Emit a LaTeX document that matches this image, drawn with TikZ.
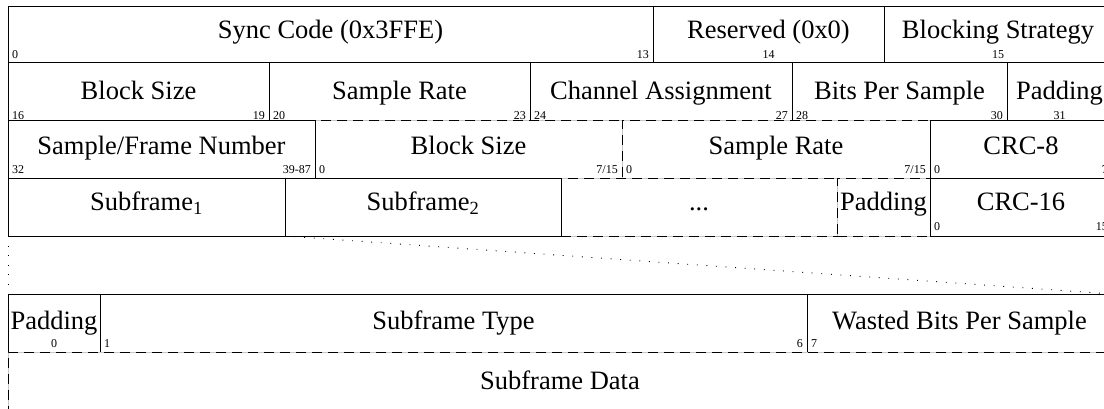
\documentclass[tikz,border=0pt]{standalone}
\usepackage{fontspec}
\setmainfont{Liberation Serif}
\usetikzlibrary{calc}
\tikzset{
  solidbox/.style={draw=black, line width=1pt, fill=white, inner sep=0pt, outer sep=0pt, anchor=north west},
  dashbox/.style={draw=black, line width=1pt, inner sep=0pt, outer sep=0pt, anchor=north west,
    dash pattern=on 10pt off 6pt, preaction={fill=white}, preaction={draw=black!22, solid}},
  lbl/.style={font=\fontsize{26.5}{30}\selectfont, inner sep=0pt, anchor=base},
  num/.style={font=\fontsize{12}{14}\selectfont, inner sep=0pt},
  dotline/.style={line width=0.9pt, dash pattern=on 0.9pt off 8.7pt},
}
\newcommand\mkbox[6]{\node[#2, minimum width={(#4)-(#3)}, minimum height={(#6)-(#5)}] (#1) at (#3,#5) {};}
\newcommand\labT[3]{\node[lbl] (#1-t) at (#1.center |- 0,#2) {#3};}
\newcommand\numL[3]{\node[num, anchor=base west, xshift=4pt] (#1-l) at (#1.west |- 0,#2) {#3};}
\newcommand\numR[3]{\node[num, anchor=base east, xshift=-4pt] (#1-r) at (#1.east |- 0,#2) {#3};}
\newcommand\numC[3]{\node[num, anchor=base] (#1-c) at (#1.center |- 0,#2) {#3};}
\begin{document}
\begin{tikzpicture}[x=1pt, y=-1pt]
\useasboundingbox (0,0) rectangle (1104,409);
% row 1
\mkbox{sync}{solidbox}{8}{653}{7}{63}
\mkbox{resv}{solidbox}{653}{884}{7}{63}
\mkbox{bstr}{solidbox}{884}{1112}{7}{63}
% row 2
\mkbox{bs}{solidbox}{8}{269}{63}{121}
\mkbox{sr}{solidbox}{269}{530}{63}{121}
\mkbox{ca}{solidbox}{530}{792}{63}{121}
\mkbox{bps}{solidbox}{792}{1007}{63}{121}
\mkbox{padA}{solidbox}{1007}{1112}{63}{121}
% row 3
\mkbox{bsx}{dashbox}{315}{622}{121}{179}
\mkbox{srx}{dashbox}{622}{930}{121}{179}
\mkbox{sfn}{solidbox}{8}{315}{121}{179}
\mkbox{crcA}{solidbox}{930}{1112}{121}{179}
% row 4
\mkbox{more}{dashbox}{561}{837}{179}{236}
\mkbox{padB}{dashbox}{837}{930}{179}{236}
\mkbox{sfa}{solidbox}{8}{285}{179}{236}
\mkbox{sfb}{solidbox}{285}{561}{179}{236}
\mkbox{crcB}{solidbox}{930}{1112}{179}{236}
% row 5
\mkbox{padC}{solidbox}{8}{100}{294}{352}
\mkbox{sft}{solidbox}{100}{807}{294}{352}
\mkbox{wbps}{solidbox}{807}{1112}{294}{352}
% row 6
\mkbox{sfd}{dashbox}{8}{1112}{352}{410}
% zoom connectors
\draw[dotline] (sfa.south west) -- (padC.north west);
\draw[dotline] (sfb.south west) -- (wbps.north east);
% labels row 1
\labT{sync}{39}{Sync Code (0x3FFE)}
\numL{sync}{59}{0}
\numR{sync}{59}{13}
\labT{resv}{39}{Reserved (0x0)}
\numC{resv}{59}{14}
\labT{bstr}{39}{Blocking Strategy}
\numC{bstr}{59}{15}
% labels row 2
\labT{bs}{99.5}{Block Size}
\numL{bs}{119.5}{16}
\numR{bs}{119.5}{19}
\labT{sr}{99.5}{Sample Rate}
\numL{sr}{119.5}{20}
\numR{sr}{119.5}{23}
\labT{ca}{99.5}{Channel Assignment}
\numL{ca}{119.5}{24}
\numR{ca}{119.5}{27}
\labT{bps}{99.5}{Bits Per Sample}
\numL{bps}{119.5}{28}
\numR{bps}{119.5}{30}
\labT{padA}{99.5}{Padding}
\numC{padA}{119.5}{31}
% labels row 3
\labT{sfn}{155}{Sample/Frame Number}
\numL{sfn}{174}{32}
\numR{sfn}{174}{39-87}
\labT{bsx}{155}{Block Size}
\numL{bsx}{174}{0}
\numR{bsx}{174}{7/15}
\labT{srx}{155}{Sample Rate}
\numL{srx}{174}{0}
\numR{srx}{174}{7/15}
\labT{crcA}{155}{CRC-8}
\numL{crcA}{174}{0}
\numR{crcA}{174}{7}
% labels row 4
\labT{sfa}{211}{Subframe\textsubscript{1}}
\labT{sfb}{211}{Subframe\textsubscript{2}}
\labT{more}{211}{...}
\labT{padB}{211}{Padding}
\labT{crcB}{211}{CRC-16}
\numL{crcB}{230.5}{0}
\numR{crcB}{230.5}{15}
% labels row 5
\labT{padC}{329}{Padding}
\numC{padC}{347}{0}
\labT{sft}{329}{Subframe Type}
\numL{sft}{347}{1}
\numR{sft}{347}{6}
\labT{wbps}{329}{Wasted Bits Per Sample}
\numL{wbps}{347}{7}
% row 6
\labT{sfd}{389}{Subframe Data}
\end{tikzpicture}
\end{document}
